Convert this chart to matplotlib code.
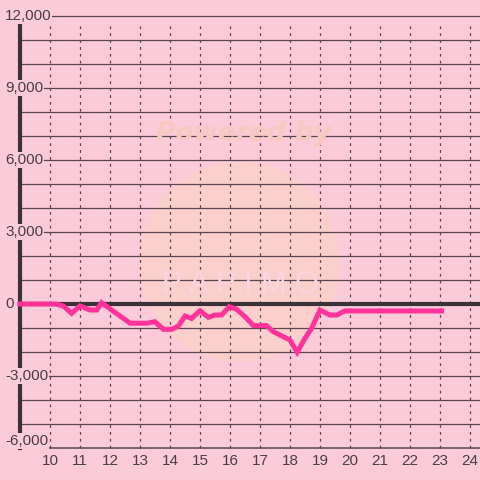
import matplotlib
matplotlib.use("Agg")
import matplotlib.pyplot as plt
from matplotlib.patches import Circle

plt.rcParams['font.family'] = ['Liberation Sans', 'DejaVu Sans']

# ---- data ----
hours = [9, 10.2, 10.44, 10.72, 11, 11.33, 11.56, 11.72, 12.0, 12.67, 13.22, 13.5,
         13.78, 14.06, 14.28, 14.5, 14.72, 15.0, 15.28, 15.5, 15.72, 15.98, 16.22,
         16.5, 16.78, 17.22, 17.44, 18.0, 18.24, 18.5, 18.72, 19.0, 19.33, 19.56,
         19.83, 23.05]
values = [0, 0, -80, -390, -80, -250, -250, 55, -200, -800, -800, -740,
          -1055, -1055, -920, -500, -600, -280, -555, -460, -460, -110, -220,
          -530, -900, -900, -1150, -1500, -2010, -1430, -1010, -250, -460, -460,
          -290, -290]
x_ticks = list(range(10, 25))
y_ticks = [12000, 9000, 6000, 3000, 0, -3000, -6000]
y_tick_labels = ["12,000", "9,000", "6,000", "3,000", "0", "-3,000", "-6,000"]

bg = "#fccbd9"
grid_c = "#5a4450"
axis_c = "#3a3236"
text_c = "#4a3f44"
line_c = "#ff3399"

fig = plt.figure(figsize=(4.8, 4.8), dpi=100, facecolor=bg)
ax = fig.add_axes([0, 0, 1, 1])
ax.set_facecolor(bg)
ax.set_xlim(9 - 20 / 30, 9 + 460 / 30)
ax.set_ylim(-6000 - 32 / 24 * 1000, 12000 + 16 / 24 * 1000)
ax.axis("off")

# watermark
ax.add_patch(Circle((0.5, 1 - 262 / 480), 100 / 480, transform=fig.transFigure,
                    facecolor="#fbd3c8", edgecolor="none", alpha=0.75, zorder=0))
fig.text(243 / 480, 1 - 134 / 480, "Powered by", fontsize=19, fontweight="bold",
         fontstyle="oblique", family="DejaVu Sans", color="#f7c9c1",
         ha="center", va="center", zorder=0.5)
fig.text(240 / 480, 1 - 285 / 480, "P A P I M O", fontsize=22, color="#fdd3e0",
         ha="center", va="center", zorder=0.5)

xmin, xmax = ax.get_xlim()
# horizontal grid
for v in range(-5000, 12001, 1000):
    if v == 0:
        continue
    ax.plot([9, xmax], [v, v], color=grid_c, lw=0.9, zorder=2)
# vertical dotted grid
for t in x_ticks:
    ax.plot([t, t], [-6000, 11700], color=grid_c, lw=0.9, ls=(0, (2.2, 3.3)), zorder=2)
# axes lines
ax.plot([9, xmax], [-6000, -6000], color=grid_c, lw=1.1, zorder=2)
ax.plot([9, 9], [-6000, 12000], color=axis_c, lw=3, zorder=3)
ax.plot([9, xmax], [0, 0], color=axis_c, lw=3, zorder=3)

# data line
ax.plot(hours, values, color=line_c, lw=3.6, solid_joinstyle="miter", zorder=4)

# y tick labels
for v, lab in zip(y_ticks, y_tick_labels):
    yy = v if v != -6000 else -5700
    ax.text(8.5, yy, lab, fontsize=11, color=text_c, ha="left", va="center",
            zorder=6, bbox=dict(facecolor=bg, edgecolor="none", pad=0.5))
# x tick labels
for t in x_ticks:
    ax.text(t, -6000 - 13 / 24 * 1000, str(t), fontsize=11, color=text_c,
            ha="center", va="center", zorder=6)

fig.savefig("out.png", dpi=100, facecolor=bg)
